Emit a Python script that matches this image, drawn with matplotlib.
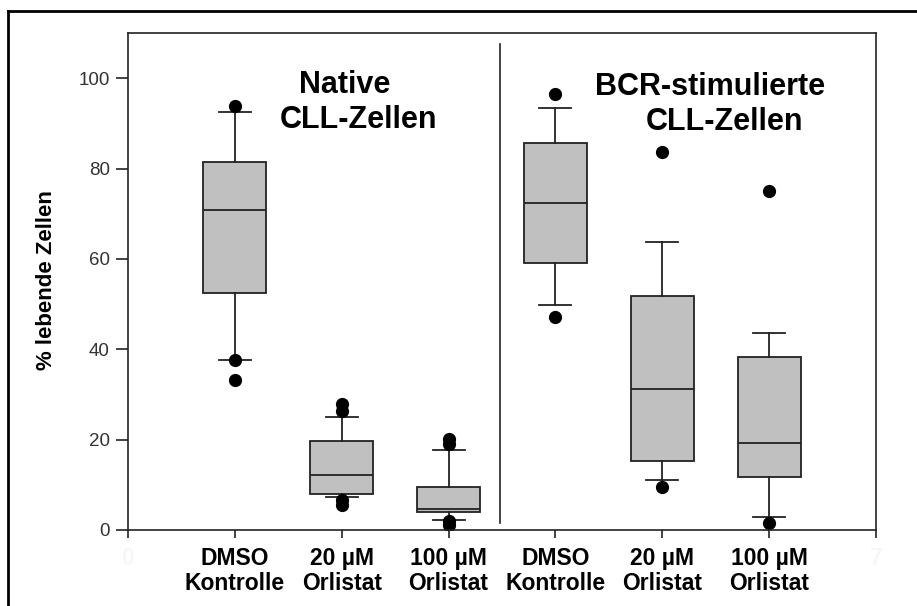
import matplotlib
matplotlib.use("Agg")
import matplotlib.pyplot as plt
from matplotlib.lines import Line2D

plt.rcParams['font.family'] = ['Liberation Sans', 'DejaVu Sans']

# box statistics (% living cells)
positions = [1, 2, 3, 4, 5, 6]
labels = ["DMSO\nKontrolle", "20 µM\nOrlistat", "100 µM\nOrlistat",
          "DMSO\nKontrolle", "20 µM\nOrlistat", "100 µM\nOrlistat"]
q1 = [52.4, 7.9, 4.0, 59.2, 15.3, 11.8]
med = [70.9, 12.1, 4.7, 72.3, 31.3, 19.3]
q3 = [81.5, 19.6, 9.6, 85.7, 51.8, 38.3]
whislo = [37.7, 7.2, 2.2, 49.7, 11.0, 2.9]
whishi = [92.6, 24.9, 17.8, 93.5, 63.8, 43.6]
fliers = [[93.8, 37.7, 33.2],
          [27.8, 26.3, 6.7, 5.5],
          [20.1, 19.0, 2.1, 1.0],
          [96.6, 47.2],
          [83.7, 9.6],
          [75.1, 1.5]]

stats = []
for i in range(len(positions)):
    stats.append(dict(q1=q1[i], med=med[i], q3=q3[i], whislo=whislo[i],
                      whishi=whishi[i], fliers=fliers[i]))

fig = plt.figure(figsize=(9.17, 6.06), dpi=100)
ax = fig.add_axes([128 / 917, 1 - 530 / 606, 748 / 917, 497 / 606])

edge = '#222222'
ax.bxp(stats, positions=positions, widths=0.59, patch_artist=True,
       boxprops=dict(facecolor='#c0c0c0', edgecolor=edge, linewidth=1.3),
       medianprops=dict(color=edge, linewidth=1.3),
       whiskerprops=dict(color=edge, linewidth=1.3),
       capprops=dict(color=edge, linewidth=1.3),
       capwidths=0.3,
       flierprops=dict(marker='o', markerfacecolor='black', markeredgecolor='black',
                       markersize=8.5))

# divider between the two groups
ax.plot([3.48, 3.48], [1.5, 107.5], color=edge, linewidth=1.2)

ax.set_xlim(0, 7)
ax.set_ylim(0, 110)
ax.set_yticks([0, 20, 40, 60, 80, 100])
ax.set_xticks([0] + positions + [7])
ax.set_xticklabels(["0"] + labels + ["7"], fontsize=16.5, fontweight='bold',
                   linespacing=1.15)
ax.get_xticklabels()[0].set_color('#f7f7f7')
ax.get_xticklabels()[-1].set_color('#f7f7f7')
ax.tick_params(axis='y', labelsize=13.5, labelcolor='#333333', length=9, width=1.2,
               color=edge, pad=4)
ax.tick_params(axis='x', length=6, width=1.2, color=edge, pad=6)
for s in ax.spines.values():
    s.set_color(edge)
    s.set_linewidth(1.2)

ax.text(2.03, 96.8, "Native", fontsize=22, fontweight='bold', ha='center', va='baseline')
ax.text(2.16, 89.0, "CLL-Zellen", fontsize=22, fontweight='bold', ha='center', va='baseline')
ax.text(5.45, 96.3, "BCR-stimulierte", fontsize=22, fontweight='bold', ha='center', va='baseline')
ax.text(5.58, 88.6, "CLL-Zellen", fontsize=22, fontweight='bold', ha='center', va='baseline')

fig.text(47 / 917, 1 - 280 / 606, "% lebende Zellen", rotation=90, fontsize=16,
         fontweight='bold', ha='center', va='center')

# outer frame (top and left edges)
fig.add_artist(Line2D([8 / 917, 1.0], [1 - 11 / 606, 1 - 11 / 606],
                      transform=fig.transFigure, color='black', linewidth=2))
fig.add_artist(Line2D([8 / 917, 8 / 917], [0, 1 - 11 / 606],
                      transform=fig.transFigure, color='black', linewidth=2))

fig.savefig("out.png", dpi=100)
